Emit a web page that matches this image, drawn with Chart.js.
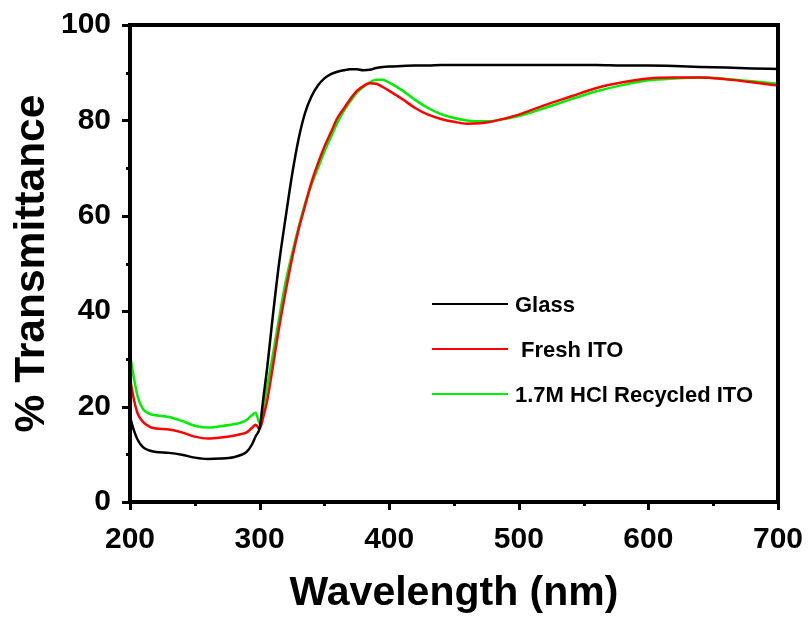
<!DOCTYPE html>
<html>
<head>
<meta charset="utf-8">
<title>Transmittance</title>
<script src="https://cdn.jsdelivr.net/npm/chart.js@4.4.1/dist/chart.umd.min.js"></script>
<style>
	html, body { margin: 0; padding: 0; background: #fff; }
	#Chart_Box { width: 812px; height: 622px; }
</style>
</head>
<body>
<div id="Chart_Box"><canvas id="Chart_Transmittance"></canvas></div>
<script>

const FONT_FAMILY = "'Liberation Sans', Arial, sans-serif";

// wavelength (nm), shared by all curves
const wavelengths = [
	200, 203, 206, 210, 215, 220, 230, 240, 250, 260, 270, 280, 285, 290, 294, 297,
	300, 303, 306, 310, 315, 320, 325, 330, 335, 340, 345, 350, 355, 360, 365, 370,
	375, 380, 385, 390, 395, 400, 410, 420, 430, 440, 450, 460, 470, 480, 500, 520,
	540, 560, 580, 600, 620, 640, 660, 680, 700
];

const glass = [
	17.8, 15.0, 13.0, 11.5, 10.8, 10.5, 10.3, 9.9, 9.3, 9.0, 9.1, 9.4, 9.8, 10.5, 12.0, 13.8,
	15.5, 22.0, 28.5, 38.5, 50.0, 59.5, 68.5, 76.0, 81.5, 85.0, 87.3, 88.8, 89.7, 90.2, 90.5, 90.7,
	90.7, 90.5, 90.6, 91.0, 91.2, 91.3, 91.4, 91.5, 91.5, 91.6, 91.6, 91.6, 91.6, 91.6, 91.6, 91.6,
	91.6, 91.6, 91.5, 91.5, 91.4, 91.2, 91.1, 90.9, 90.8
];

const fresh_ito = [
	26.0, 21.5, 18.5, 16.8, 15.8, 15.4, 15.2, 14.6, 13.7, 13.3, 13.5, 13.9, 14.2, 14.6, 15.5, 16.2,
	15.3, 18.0, 21.5, 28.0, 36.5, 44.0, 51.0, 57.0, 62.0, 67.0, 71.0, 74.5, 77.5, 80.5, 82.5, 84.5,
	86.2, 87.2, 87.8, 87.7, 87.0, 86.2, 84.5, 82.6, 81.2, 80.3, 79.7, 79.3, 79.4, 79.8, 81.2, 83.2,
	85.0, 86.8, 88.0, 88.8, 89.0, 89.0, 88.6, 88.0, 87.3
];

const recycled_ito = [
	31.0, 26.0, 22.0, 19.5, 18.5, 18.2, 17.8, 17.0, 16.0, 15.6, 15.9, 16.3, 16.6, 17.2, 18.2, 18.7,
	16.5, 20.0, 24.5, 30.5, 38.5, 46.0, 52.0, 57.5, 62.5, 66.5, 70.0, 73.5, 76.5, 79.5, 82.0, 84.0,
	85.8, 87.0, 88.0, 88.5, 88.5, 87.9, 86.3, 84.3, 82.6, 81.3, 80.5, 80.0, 79.8, 79.9, 80.9, 82.6,
	84.4, 86.1, 87.4, 88.4, 88.8, 89.0, 88.7, 88.2, 87.7
];

const series_labels = ['Glass', ' Fresh ITO', '1.7M HCl Recycled ITO'];
const series_colors = ['#000000', '#ff0000', '#00ee00'];

const x_ticks = [200, 300, 400, 500, 600, 700];
const y_ticks = [0, 20, 40, 60, 80, 100];

//=============================================================================================================================

function to_points(values) {
	const points = [];
	let idx = 0;
	while(idx < wavelengths.length) {
		points[idx] = { x: wavelengths[idx], y: values[idx] };
		idx++;
	}
	return points;
}

// box around the plot + outward major / minor ticks
const Frame_Plugin = {
	id: 'frame_ticks',
	afterDraw(chart) {
		const ctx = chart.ctx;
		const area = chart.chartArea;
		const x_scale = chart.scales.x;
		const y_scale = chart.scales.y;

		ctx.save();
		ctx.strokeStyle = '#000';
		ctx.lineCap = 'butt';

		ctx.lineWidth = 3;
		for(let v = x_ticks[0]; v <= x_ticks[x_ticks.length - 1]; v += 50) {
			const px = Math.round(x_scale.getPixelForValue(v)) + 0.5;
			const len = (v % 100 === 0) ? 8 : 4;
			ctx.beginPath();
			ctx.moveTo(px, area.bottom);
			ctx.lineTo(px, area.bottom + len);
			ctx.stroke();
		}
		for(let v = y_ticks[0]; v <= y_ticks[y_ticks.length - 1]; v += 10) {
			const py = Math.round(y_scale.getPixelForValue(v)) + 0.5;
			const len = (v % 20 === 0) ? 8 : 4;
			ctx.beginPath();
			ctx.moveTo(area.left, py);
			ctx.lineTo(area.left - len, py);
			ctx.stroke();
		}

		ctx.lineWidth = 4;
		ctx.strokeRect(area.left, area.top, area.right - area.left, area.bottom - area.top);
		ctx.restore();
	}
};

// legend drawn inside the plot, lower right
const Legend_Plugin = {
	id: 'inner_legend',
	afterDraw(chart) {
		const ctx = chart.ctx;
		const rows = [304, 349, 394];

		ctx.save();
		ctx.font = "bold 22px " + FONT_FAMILY;
		ctx.textBaseline = 'middle';
		ctx.fillStyle = '#000';
		let i = 0;
		while(i < series_labels.length) {
			ctx.strokeStyle = series_colors[i];
			ctx.lineWidth = 2;
			ctx.beginPath();
			ctx.moveTo(432, rows[i]);
			ctx.lineTo(508, rows[i]);
			ctx.stroke();
			ctx.fillText(series_labels[i], 515, rows[i] + 2);
			i++;
		}
		ctx.restore();
	}
};

function init() {

	const ctx = document.getElementById('Chart_Transmittance').getContext('2d');
	const all_series = [glass, fresh_ito, recycled_ito];

	const datasets = [];
	let s = 0;
	while(s < all_series.length) {
		datasets.push({
			label: series_labels[s],
			data: to_points(all_series[s]),
			borderColor: series_colors[s],
			borderWidth: 2.5,
			pointRadius: 0,
			fill: false,
			cubicInterpolationMode: 'monotone'
		});
		s++;
	}

	const tick_font = { family: FONT_FAMILY, size: 30, weight: 'bold' };
	const x_title_font = { family: FONT_FAMILY, size: 41, weight: 'bold' };
	const y_title_font = { family: FONT_FAMILY, size: 42.5, weight: 'bold' };

	const options = {
		responsive: true,
		maintainAspectRatio: false,
		animation: false,
		layout: {
			padding: { top: 25, right: 34, left: 0, bottom: 0 }
		},
		plugins: {
			legend: { display: false },
			tooltip: { enabled: false }
		},
		scales: {
			x: {
				type: 'linear',
				min: 200,
				max: 700,
				afterFit: function(scale) {
					scale.height = 120;
					scale.paddingLeft = 0;
					scale.paddingRight = 0;
				},
				afterBuildTicks: function(scale) { scale.ticks = x_ticks.map(v => ({ value: v })); },
				grid: { display: false, drawTicks: false },
				border: { display: false },
				ticks: { font: tick_font, color: '#000', padding: 20, maxRotation: 0 },
				title: { display: true, text: 'Wavelength (nm)', font: x_title_font, color: '#000', padding: { bottom: 4 } }
			},
			y: {
				type: 'linear',
				min: 0,
				max: 100,
				afterFit: function(scale) {
					scale.width = 130;
					scale.paddingTop = 0;
					scale.paddingBottom = 0;
				},
				afterBuildTicks: function(scale) { scale.ticks = y_ticks.map(v => ({ value: v })); },
				grid: { display: false, drawTicks: false },
				border: { display: false },
				ticks: { font: tick_font, color: '#000', padding: 19 },
				title: { display: true, text: '% Transmittance', font: y_title_font, color: '#000', padding: { top: 7 } }
			}
		}
	};

	new Chart(ctx, {
		type: 'line',
		data: { datasets: datasets },
		options: options,
		plugins: [Frame_Plugin, Legend_Plugin]
	});
}

window.onload = init;
</script>
</body>
</html>
